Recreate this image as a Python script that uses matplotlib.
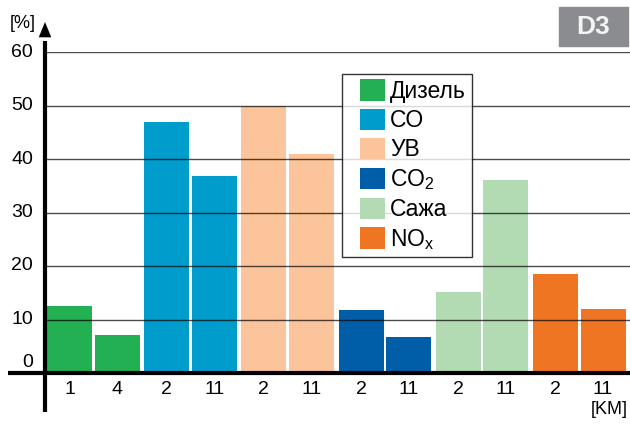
import matplotlib
matplotlib.use('Agg')
import matplotlib.pyplot as plt
from matplotlib.patches import Patch, Rectangle
from matplotlib.legend_handler import HandlerPatch

plt.rcParams['font.family'] = ['Liberation Sans', 'DejaVu Sans']
plt.rcParams['mathtext.fontset'] = 'custom'
plt.rcParams['mathtext.rm'] = 'Liberation Sans'
plt.rcParams['mathtext.it'] = 'Liberation Sans:italic'

# data
groups = ['Дизель', 'CO', 'УВ', 'CO$_2$', 'Сажа', 'NO$_\\mathrm{x}$']
colors = ['#22b052', '#009ccc', '#fcc49a', '#005ea8', '#b3dbb3', '#f07522']
km_labels = [['1', '4'], ['2', '11'], ['2', '11'], ['2', '11'], ['2', '11'], ['2', '11']]
values = [[12.5, 7.1], [46.9, 36.8], [49.9, 40.9], [11.8, 6.7], [15.1, 36.1], [18.5, 12.0]]
yticks = [0, 10, 20, 30, 40, 50, 60]

W, H = 630, 424
fig = plt.figure(figsize=(W / 100, H / 100), dpi=100)
# axes in pixel units: x from 45 px to 630 px, y 0 at 373 px, 60 at 52 px
ax = fig.add_axes([45 / W, (H - 373) / H, 585 / W, 321 / H])
ax.set_xlim(0, 585)
ax.set_ylim(0, 60)
ax.axis('off')

bar_w = 45
for g, (vals, labs) in enumerate(zip(values, km_labels)):
    for k, (v, lab) in enumerate(zip(vals, labs)):
        xc = 24.5 + g * 97.2 + k * 47.5
        ax.bar(xc, v, width=bar_w, color=colors[g], zorder=2)
        ax.text(xc, -3.1, lab, ha='center', va='center', fontsize=14)

# grid lines drawn over the bars
for t in yticks[1:]:
    ax.axhline(t, color='black', alpha=0.7, lw=1, zorder=3)

# tick labels on the y axis
for t in yticks:
    yy = t + (2.0 if t == 0 else 0)
    ax.text(-12, yy, str(t), ha='right', va='center', fontsize=14)

# axes lines
ax.plot([-37, 585], [0, 0], color='black', lw=3, clip_on=False, zorder=4, solid_capstyle='butt')
ax.plot([0, 0], [-7.3, 62], color='black', lw=3, clip_on=False, zorder=4, solid_capstyle='butt')
ax.annotate('', xy=(0, 65.6), xytext=(0, 61.5), xycoords='data',
            arrowprops=dict(arrowstyle='-|>,head_length=1.1,head_width=0.45',
                            color='black', lw=0, shrinkA=0, shrinkB=0),
            annotation_clip=False, zorder=5)

fig.text(10 / W, 1 - 23 / H, '[%]', ha='left', va='center', fontsize=13)
fig.text(628 / W, 1 - 410 / H, '[KM]', ha='right', va='center', fontsize=13)

# D3 badge
fig.patches.append(Rectangle((559 / W, 1 - 46 / H), 69 / W, 39 / H,
                             transform=fig.transFigure, color='#8a8c8f', zorder=1))
fig.text(593.5 / W, 1 - 26.5 / H, 'D3', ha='center', va='center', fontsize=19,
         fontweight='bold', color='#f4f4f4')


def square_right(legend, orig_handle, xdescent, ydescent, width, height, fontsize):
    # colour square sits in the right part of the handle slot, leaving a gap on the left
    sw = width * 25 / 37
    return Rectangle((-xdescent + width - sw, -ydescent), sw, height)


handles = [Patch(facecolor=c, edgecolor='none') for c in colors]
leg = fig.legend(handles, groups, loc='upper left', bbox_to_anchor=(342 / W, 1 - 74 / H),
                 frameon=True, fancybox=False, edgecolor='black', fontsize=16.5,
                 handlelength=1.62, handleheight=1.05, handletextpad=0.25,
                 labelspacing=0.25, borderpad=0.24, borderaxespad=0,
                 handler_map={Patch: HandlerPatch(patch_func=square_right)})
leg.get_frame().set_linewidth(1)
leg.set_zorder(10)

fig.savefig('out.png', dpi=100)
